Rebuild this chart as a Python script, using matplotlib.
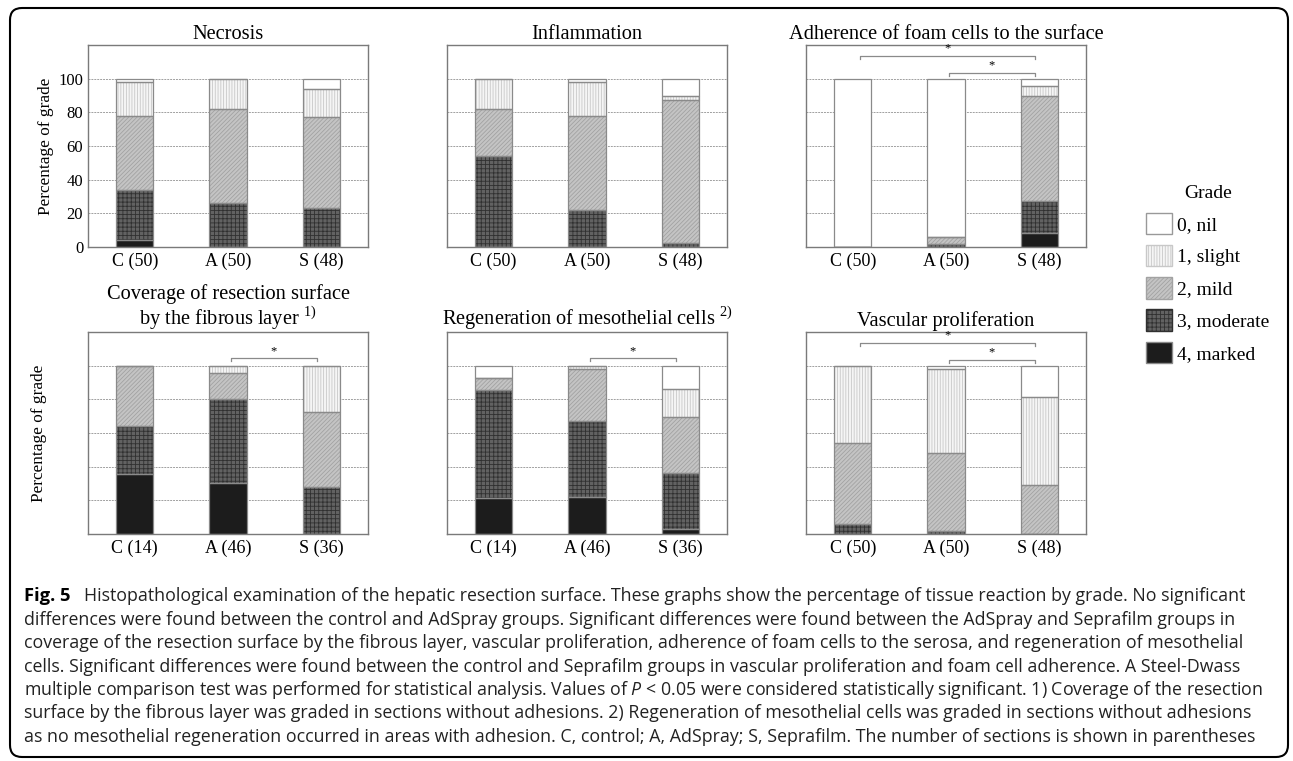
import matplotlib
matplotlib.use('Agg')
import matplotlib.pyplot as plt
from matplotlib.patches import Patch, FancyBboxPatch
from matplotlib.transforms import IdentityTransform

plt.rcParams['font.family'] = 'Liberation Serif'
plt.rcParams['mathtext.fontset'] = 'custom'
plt.rcParams['mathtext.rm'] = 'Liberation Serif'
plt.rcParams['mathtext.it'] = 'Open Sans:italic'
plt.rcParams['hatch.linewidth'] = 0.6

# percentages; rows = grade 4, 3, 2, 1, 0 (bottom to top), cols = C, A, S
grade_labels = ['0, nil', '1, slight', '2, mild', '3, moderate', '4, marked']

necrosis_groups = ['C (50)', 'A (50)', 'S (48)']
necrosis_pct = [[4, 0, 0], [30, 26, 22.9], [44, 56, 54.2], [20, 18, 16.7], [2, 0, 6.2]]

inflammation_groups = ['C (50)', 'A (50)', 'S (48)']
inflammation_pct = [[0, 0, 0], [54, 22, 2.1], [28, 56, 85.4], [18, 20, 2.1], [0, 2, 10.4]]

foam_groups = ['C (50)', 'A (50)', 'S (48)']
foam_pct = [[0, 0, 8.3], [0, 2, 18.8], [0, 4, 62.5], [0, 0, 6.2], [100, 94, 4.2]]

coverage_groups = ['C (14)', 'A (46)', 'S (36)']
coverage_pct = [[35.7, 30.4, 0], [28.6, 50, 27.8], [35.7, 15.2, 44.4], [0, 4.4, 27.8], [0, 0, 0]]

regen_groups = ['C (14)', 'A (46)', 'S (36)']
regen_pct = [[21.4, 21.7, 2.8], [64.3, 45.7, 33.3], [7.1, 30.4, 33.3], [0, 2.2, 16.7], [7.1, 0, 13.9]]

vascular_groups = ['C (50)', 'A (50)', 'S (48)']
vascular_pct = [[0, 0, 0], [6, 2, 0], [48, 46, 29.2], [46, 50, 52.1], [0, 2, 18.7]]

# significance brackets: (from group, to group, height)
foam_brackets = [(0.08, 1.95, 113.7), (1.03, 1.95, 103.5)]
coverage_brackets = [(1.03, 1.95, 104.5)]
regen_brackets = [(1.03, 1.95, 104.5)]
vascular_brackets = [(0.08, 1.95, 113.7), (1.03, 1.95, 103.5)]

# bottom to top: marked, moderate, mild, slight, nil  -> (face, hatch colour, hatch)
styles = [
    ('#1c1c1c', '#1c1c1c', None),
    ('#626262', '#303030', '++++'),
    ('#c4c4c4', '#a2a2a2', '////////'),
    ('#f5f5f5', '#c8c8c8', '||||||'),
    ('white', '#999999', None),
]

fig = plt.figure(figsize=(12.93, 7.61), dpi=100)


def draw_panel(rect, title, groups, pct, brackets=(), ylabel=False, yticklabels=False, title_pad=4.5):
    ax = fig.add_axes(rect)
    x = list(range(len(groups)))
    bottom = [0] * len(groups)
    for row, (face, hcol, hatch) in zip(pct, styles):
        ax.bar(x, row, 0.4, bottom=bottom, color=face, edgecolor=hcol, hatch=hatch, linewidth=0, zorder=2)
        ax.bar(x, row, 0.4, bottom=bottom, fill=False, edgecolor='#8a8a8a', linewidth=0.9, zorder=3)
        bottom = [b + v for b, v in zip(bottom, row)]

    for x0, x1, y in brackets:
        ax.plot([x0, x0, x1, x1], [y - 2, y, y, y - 2], color='#8a8a8a', lw=0.9, zorder=3)
        ax.text((x0 + x1) / 2, y + 0.6, '*', ha='center', va='bottom', fontsize=9)

    ax.set_xlim(-0.5, 2.5)
    ax.set_ylim(0, 120)
    ax.set_xticks(x)
    ax.set_xticklabels(groups, fontsize=13)
    ax.set_yticks([0, 20, 40, 60, 80, 100])
    if yticklabels:
        ax.tick_params(axis='y', labelsize=12, pad=3.5)
    else:
        ax.set_yticklabels([])
    ax.tick_params(length=0)
    ax.tick_params(axis='x', pad=4)
    ax.grid(axis='y', color='#a0a0a0', linestyle=(0, (2, 1)), linewidth=0.7, zorder=1)
    ax.set_axisbelow(True)
    for s in ax.spines.values():
        s.set_color('#7a7a7a')
        s.set_linewidth(1.0)
    ax.set_title(title, fontsize=14.7, pad=title_pad, linespacing=1.05)
    if ylabel:
        ax.set_ylabel('Percentage of grade', fontsize=12.4)
        ax.yaxis.set_label_coords(-0.121 if yticklabels else -0.148, 0.5)
    return ax


top, low, h, w = 0.6754, 0.2983, 0.2654, 0.2166
draw_panel([0.0681, top, w, h], 'Necrosis', necrosis_groups, necrosis_pct, ylabel=True, yticklabels=True)
draw_panel([0.3457, top, w, h], 'Inflammation', inflammation_groups, inflammation_pct)
draw_panel([0.6234, top, w, h], 'Adherence of foam cells to the surface', foam_groups, foam_pct, foam_brackets)
draw_panel([0.0681, low, w, h], 'Coverage of resection surface\nby the fibrous layer $^{1)}$',
           coverage_groups, coverage_pct, coverage_brackets, ylabel=True, title_pad=-1.0)
draw_panel([0.3457, low, w, h], 'Regeneration of mesothelial cells $^{2)}$', regen_groups, regen_pct, regen_brackets)
draw_panel([0.6234, low, w, h], 'Vascular proliferation', vascular_groups, vascular_pct, vascular_brackets)

# legend, top entry = grade 0
handles = [Patch(facecolor=f, edgecolor=hc if hc != '#1c1c1c' else '#8a8a8a', hatch=ht) for f, hc, ht in styles][::-1]
fig.legend(handles, grade_labels, title='Grade', loc='upper left', bbox_to_anchor=(0.8865, 0.7565),
           frameon=False, fontsize=14, title_fontsize=14, handlelength=1.3, handleheight=1.3,
           labelspacing=0.56, handletextpad=0.3, borderpad=0, borderaxespad=0)

# caption
caption_lines = [
    "Histopathological examination of the hepatic resection surface. These graphs show the percentage of tissue reaction by grade. No significant",
    "differences were found between the control and AdSpray groups. Significant differences were found between the AdSpray and Seprafilm groups in",
    "coverage of the resection surface by the fibrous layer, vascular proliferation, adherence of foam cells to the serosa, and regeneration of mesothelial",
    "cells. Significant differences were found between the control and Seprafilm groups in vascular proliferation and foam cell adherence. A Steel-Dwass",
    "multiple comparison test was performed for statistical analysis. Values of $P$ < 0.05 were considered statistically significant. 1) Coverage of the resection",
    "surface by the fibrous layer was graded in sections without adhesions. 2) Regeneration of mesothelial cells was graded in sections without adhesions",
    "as no mesothelial regeneration occurred in areas with adhesion. C, control; A, AdSpray; S, Seprafilm. The number of sections is shown in parentheses",
]
line_y = [596, 620, 643, 667, 690, 713, 737]
fig.text(24 / 1293, 1 - line_y[0] / 761, 'Fig. 5', family='Open Sans', weight='bold', fontsize=13.2, va='center')
for i, (txt, y) in enumerate(zip(caption_lines, line_y)):
    x0 = 84 if i == 0 else 24
    fig.text(x0 / 1293, 1 - y / 761, txt, family='Open Sans', fontsize=12.75, va='center', color='#222222')

# rounded frame around the figure
frame = FancyBboxPatch((10, 4), 1278, 749, boxstyle='round,pad=0,rounding_size=12',
                       transform=IdentityTransform(), fill=False, edgecolor='black', linewidth=1.5)
fig.patches.append(frame)

fig.savefig('out.png', dpi=100)
